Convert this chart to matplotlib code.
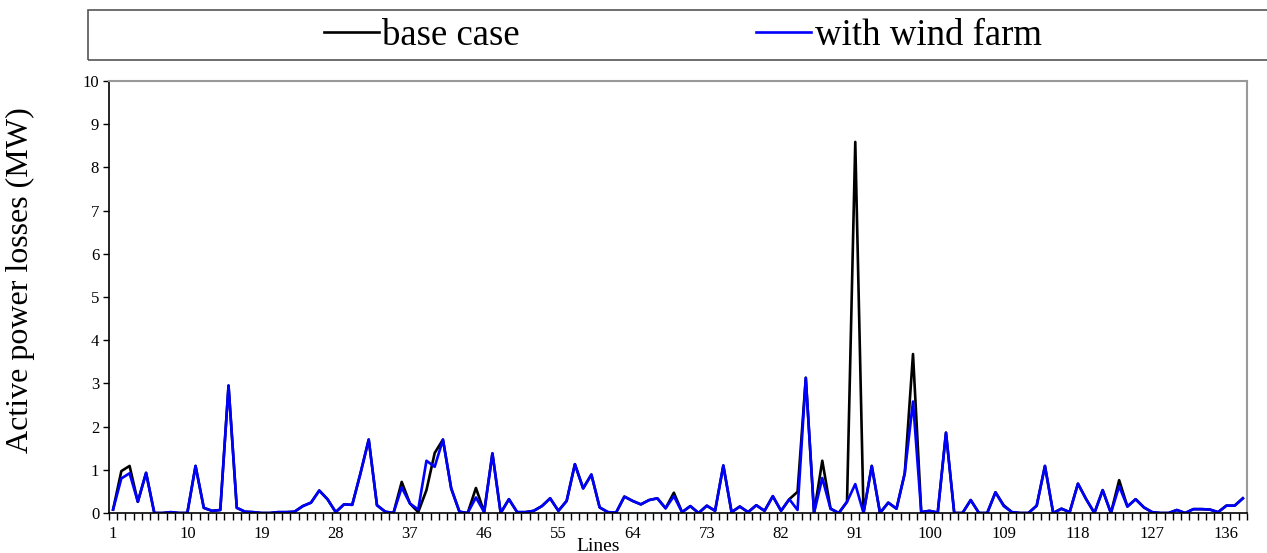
import matplotlib.pyplot as plt
from matplotlib.patches import Rectangle

plt.rcParams['font.family'] = ['Liberation Serif', 'DejaVu Serif']

# Line numbers
lines = list(range(1, 139))

# Active power losses (MW), base case
base_case = [
    0.08, 0.97, 1.09, 0.26, 0.93, 0.00, 0.00, 0.02, 0.00, 0.00,
    1.09, 0.12, 0.05, 0.07, 2.95, 0.12, 0.03, 0.02, 0.00, 0.00,
    0.02, 0.02, 0.03, 0.16, 0.24, 0.52, 0.32, 0.02, 0.20, 0.19,
    0.92, 1.70, 0.18, 0.03, 0.00, 0.72, 0.22, 0.02, 0.53, 1.39,
    1.70, 0.57, 0.03, 0.00, 0.58, 0.02, 1.38, 0.00, 0.32, 0.02,
    0.02, 0.05, 0.16, 0.34, 0.05, 0.28, 1.13, 0.57, 0.89, 0.13,
    0.02, 0.01, 0.38, 0.28, 0.20, 0.30, 0.34, 0.11, 0.47, 0.02,
    0.16, 0.00, 0.17, 0.05, 1.10, 0.02, 0.15, 0.02, 0.18, 0.05,
    0.39, 0.05, 0.32, 0.49, 3.13, 0.00, 1.21, 0.10, 0.00, 0.26,
    8.59, 0.00, 1.09, 0.00, 0.24, 0.10, 0.92, 3.68, 0.02, 0.05,
    0.01, 1.86, 0.00, 0.00, 0.30, 0.00, 0.00, 0.48, 0.18, 0.02,
    0.00, 0.00, 0.17, 1.09, 0.00, 0.10, 0.02, 0.68, 0.32, 0.00,
    0.53, 0.00, 0.76, 0.15, 0.32, 0.13, 0.02, 0.00, 0.00, 0.07,
    0.00, 0.09, 0.09, 0.08, 0.02, 0.17, 0.17, 0.34,
]

# Active power losses (MW), with wind farm
wind_farm = [
    0.08, 0.80, 0.92, 0.26, 0.93, 0.00, 0.00, 0.02, 0.00, 0.00,
    1.09, 0.12, 0.05, 0.07, 2.95, 0.12, 0.03, 0.02, 0.00, 0.00,
    0.02, 0.02, 0.03, 0.16, 0.24, 0.52, 0.32, 0.02, 0.20, 0.19,
    0.92, 1.70, 0.18, 0.03, 0.00, 0.59, 0.22, 0.08, 1.21, 1.07,
    1.70, 0.57, 0.03, 0.00, 0.36, 0.02, 1.38, 0.00, 0.32, 0.02,
    0.02, 0.05, 0.16, 0.34, 0.05, 0.28, 1.13, 0.57, 0.89, 0.13,
    0.02, 0.01, 0.38, 0.28, 0.20, 0.30, 0.34, 0.11, 0.39, 0.02,
    0.16, 0.00, 0.17, 0.05, 1.10, 0.02, 0.15, 0.02, 0.18, 0.05,
    0.39, 0.05, 0.32, 0.07, 3.13, 0.00, 0.81, 0.10, 0.00, 0.26,
    0.67, 0.00, 1.09, 0.00, 0.24, 0.10, 0.92, 2.58, 0.02, 0.05,
    0.01, 1.86, 0.00, 0.00, 0.30, 0.00, 0.00, 0.48, 0.16, 0.02,
    0.00, 0.00, 0.17, 1.09, 0.00, 0.10, 0.02, 0.68, 0.32, 0.00,
    0.53, 0.00, 0.62, 0.15, 0.32, 0.13, 0.02, 0.00, 0.00, 0.07,
    0.00, 0.09, 0.09, 0.08, 0.02, 0.17, 0.17, 0.34,
]

x_tick_labels = [1, 10, 19, 28, 37, 46, 55, 64, 73, 82, 91, 100, 109, 118, 127, 136]
y_ticks = list(range(0, 11))

fig = plt.figure(figsize=(12.67, 5.53), dpi=100)
ax = fig.add_axes([0.0860, 0.0723, 0.8982, 0.7812])

l1, = ax.plot(lines, base_case, color='black', lw=1.9, label='base case')
l2, = ax.plot(lines, wind_farm, color='#0000ff', lw=1.9, label='with wind farm')

ax.set_xlim(0.5, 138.5)
ax.set_ylim(0, 10)

# Axes: black left/bottom, grey plot-area border on top/right
for s in ['left', 'bottom']:
    ax.spines[s].set_color('black')
    ax.spines[s].set_linewidth(1.2)
for s in ['top', 'right']:
    ax.spines[s].set_color('#999999')
    ax.spines[s].set_linewidth(1.5)

ax.set_yticks(y_ticks)
ax.set_yticklabels([str(v) for v in y_ticks], fontsize=12)
ax.tick_params(axis='y', direction='out', length=4, width=1, pad=3)

ax.set_xticks(x_tick_labels)
ax.set_xticklabels([str(v) for v in x_tick_labels], fontsize=12)
ax.tick_params(axis='x', which='major', length=0, pad=9)
ax.set_xticks([i + 0.5 for i in range(0, 139)], minor=True)
ax.tick_params(axis='x', which='minor', direction='out', length=5, width=1)

# Axis titles
fig.text(598 / 1267, 0.004, 'Lines', fontsize=14, ha='center', va='baseline')
fig.text(20 / 1267, 0.494, 'Active power losses (MW)', fontsize=23,
         rotation=90, ha='center', va='center')

# Legend box running off the right edge
box = Rectangle((88 / 1267, 1 - 60 / 553), 1.0, 50 / 553, transform=fig.transFigure,
                fill=False, edgecolor='#555555', lw=1.2)
fig.patches.append(box)
fig.legend(handles=[l1, l2], loc='center', bbox_to_anchor=(0.5387, 0.935), ncol=2,
           frameon=False, fontsize=26.5, handlelength=1.5, handletextpad=0.1,
           columnspacing=6.4, borderpad=0.1)

plt.savefig('out.png', dpi=100)
